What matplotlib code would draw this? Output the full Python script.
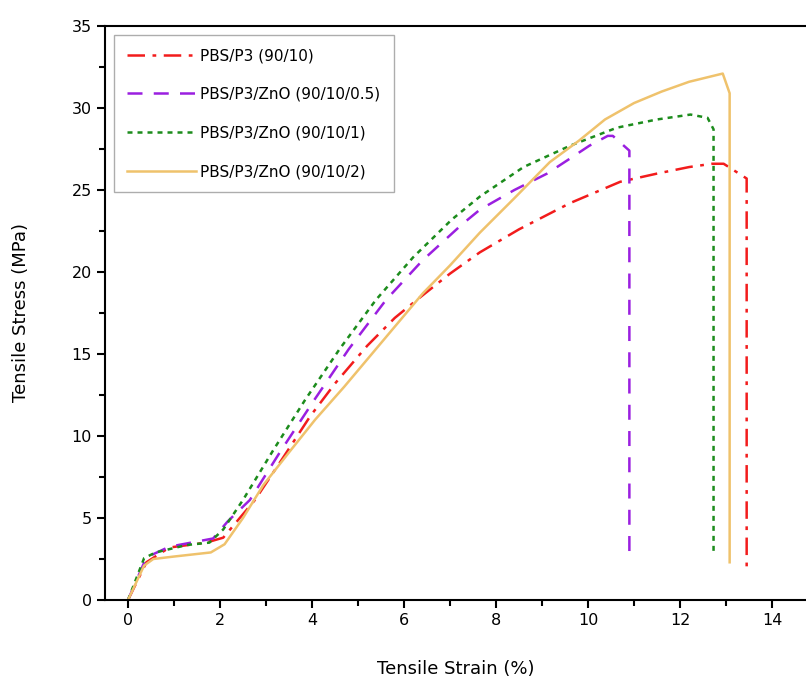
import numpy as np
import matplotlib
matplotlib.use("Agg")
import matplotlib.pyplot as plt
from matplotlib.ticker import MultipleLocator

# stress-strain curves
labels = ["PBS/P3 (90/10)", "PBS/P3/ZnO (90/10/0.5)",
          "PBS/P3/ZnO (90/10/1)", "PBS/P3/ZnO (90/10/2)"]

strain_p3 = [0, 0.4, 0.9, 1.7, 2.07, 2.76, 3.4, 3.96, 4.5, 5.2, 5.8, 6.28, 7.0,
             7.65, 8.5, 9.61, 10.7, 11.5, 12.2, 12.7, 12.95, 13.45, 13.45]
stress_p3 = [0, 2.3, 3.2, 3.5, 3.8, 6.1, 8.8, 11.2, 13.2, 15.5, 17.2, 18.3, 19.9,
             21.2, 22.6, 24.2, 25.5, 26.0, 26.4, 26.6, 26.6, 25.7, 1.95]

strain_z05 = [0, 0.4, 0.9, 1.85, 2.17, 2.65, 3.3, 4.05, 4.8, 5.61, 6.4,
              7.26, 7.65, 8.4, 9.11, 9.6, 10.03, 10.43, 10.54, 10.9, 10.9]
stress_z05 = [0, 2.6, 3.25, 3.75, 4.8, 6.1, 9.0, 12.2, 15.3, 18.3, 20.7,
              22.9, 23.8, 25.0, 26.0, 26.9, 27.7, 28.3, 28.3, 27.4, 2.6]

strain_z1 = [0, 0.35, 0.6, 1.27, 1.77, 2.07, 2.5, 3.15, 3.85, 4.6, 5.39, 6.2,
             7.04, 7.65, 8.6, 9.61, 10.63, 11.5, 12.23, 12.6, 12.73, 12.73]
stress_z1 = [0, 2.55, 2.9, 3.35, 3.5, 4.3, 6.1, 9.1, 12.2, 15.3, 18.3, 20.9,
             23.2, 24.6, 26.4, 27.7, 28.8, 29.3, 29.6, 29.4, 28.7, 2.9]

strain_z2 = [0, 0.35, 0.55, 1.0, 1.8, 2.1, 2.5, 2.94, 3.5, 4.07, 4.7, 5.3, 5.9,
             6.41, 7.0, 7.65, 8.4, 9.17, 9.8, 10.37, 11.0, 11.6, 12.2, 12.93,
             13.08, 13.08]
stress_z2 = [0, 2.1, 2.5, 2.65, 2.9, 3.4, 5.0, 7.0, 9.0, 11.0, 13.0, 15.0, 17.0,
             18.7, 20.4, 22.4, 24.5, 26.7, 28.0, 29.3, 30.3, 31.0, 31.6, 32.1,
             30.9, 2.3]

plt.rcParams["font.family"] = ["DejaVu Sans"]

fig = plt.figure(figsize=(8.06, 6.79), dpi=100)
ax = fig.add_axes([105 / 806, 79 / 679, 701 / 806, 574 / 679])

ax.plot(strain_p3, stress_p3, color="#f21c1c", lw=1.8,
        dashes=(7, 3, 1.5, 3), label=labels[0])
ax.plot(strain_z05, stress_z05, color="#9a1fe0", lw=1.8,
        dashes=(6, 4.5), label=labels[1])
ax.plot(strain_z1, stress_z1, color="#1c8c1c", lw=1.8,
        dashes=(2, 2), label=labels[2])
ax.plot(strain_z2, stress_z2, color="#efc26c", lw=1.8, label=labels[3])

ax.set_xlim(-0.5, 14.74)
ax.set_ylim(0, 35)
ax.xaxis.set_major_locator(MultipleLocator(2))
ax.xaxis.set_minor_locator(MultipleLocator(1))
ax.yaxis.set_major_locator(MultipleLocator(5))
ax.yaxis.set_minor_locator(MultipleLocator(2.5))
ax.tick_params(which="major", direction="out", length=6, width=1.5, labelsize=11.5)
ax.tick_params(which="minor", direction="out", length=4, width=1.5)
ax.spines["right"].set_visible(False)
for s in ["left", "bottom", "top"]:
    ax.spines[s].set_linewidth(1.5)

ax.set_xlabel("Tensile Strain (%)", fontsize=13, labelpad=23)
ax.set_ylabel("Tensile Stress (MPa)", fontsize=13, labelpad=30)

leg = ax.legend(loc="upper left", fontsize=11, frameon=True, fancybox=False,
                edgecolor="#999999", handlelength=4.5, handletextpad=0.3,
                labelspacing=1.55, borderaxespad=0.6, borderpad=0.85)
leg.get_frame().set_linewidth(1.0)

fig.savefig("out.png", dpi=100)
